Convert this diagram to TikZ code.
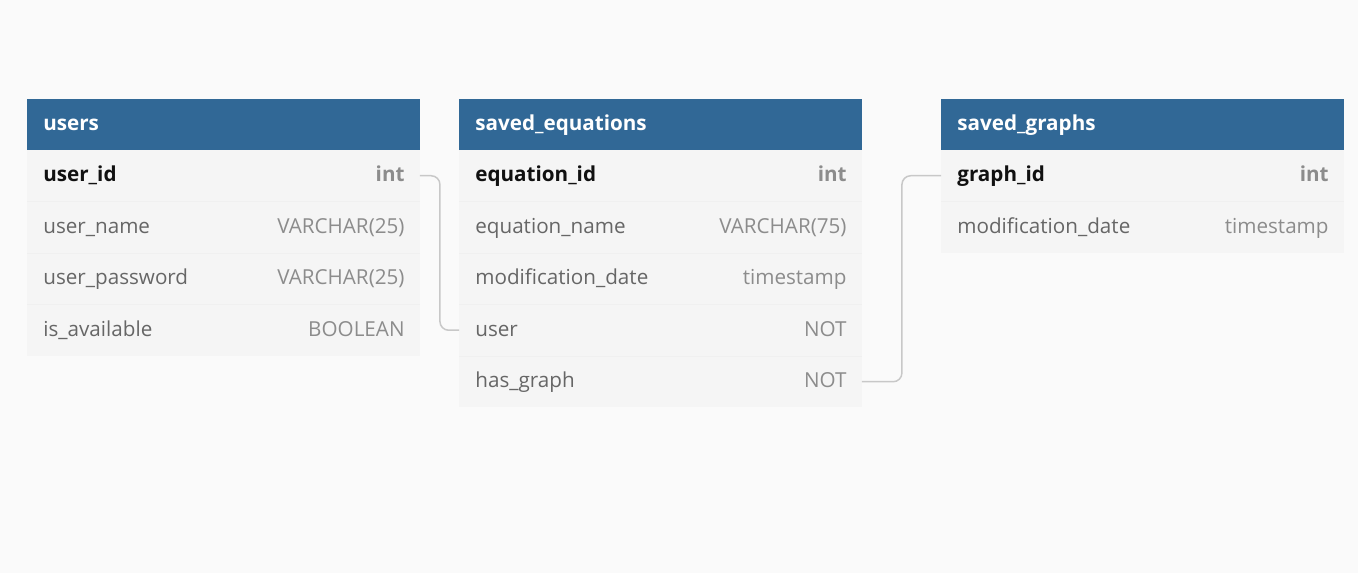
\documentclass[tikz,border=0pt]{standalone}
\usepackage{fontspec}
\setmainfont{Open Sans}
\usepackage{xcolor}
\usepackage{tikz}
\usetikzlibrary{positioning}

\definecolor{pagebg}{HTML}{FAFAFA}
\definecolor{hdblue}{HTML}{316896}
\definecolor{rowbg}{HTML}{F5F5F5}
\definecolor{sepgray}{HTML}{F0F0F0}
\definecolor{keyblack}{HTML}{111111}
\definecolor{fldgray}{HTML}{666666}
\definecolor{typgray}{HTML}{8C8C8C}
\definecolor{linkgray}{HTML}{C8C8C8}
\newcommand\tabfont{\fontsize{11.75}{14}\selectfont}

\begin{document}
\begin{tikzpicture}[x=0.02cm,y=-0.02cm,
  hd/.style={fill=hdblue,anchor=north west,minimum height=1.02cm,inner sep=0pt,outer sep=0pt},
  row/.style={fill=rowbg,anchor=north west,minimum height=1.03cm,inner sep=0pt,outer sep=0pt},
  txt/.style={inner sep=0pt,text height=1.55ex,text depth=0.45ex,yshift=-0.02cm},
  ttl/.style={txt,anchor=west,text=white,font=\tabfont\bfseries},
  key/.style={txt,anchor=west,text=keyblack,font=\tabfont\bfseries},
  fld/.style={txt,anchor=west,text=fldgray,font=\tabfont},
  typ/.style={txt,anchor=east,text=typgray,font=\tabfont},
  ktyp/.style={txt,anchor=east,text=typgray,font=\tabfont\bfseries},
  sep/.style={draw=sepgray,line width=0.5pt},
  link/.style={draw=linkgray,line width=0.85pt,rounded corners=5pt}
]
\fill[pagebg] (0,0) rectangle (1358,573);

% users
\node[hd,minimum width=7.86cm] (users) at (27,99) {};
\node[ttl] (users-t) at ([xshift=0.32cm]users.west) {users};
\node[row,minimum width=7.86cm] (users-1) at (27,150) {};
\node[key] (users-1n) at ([xshift=0.32cm]users-1.west) {user\_id};
\node[ktyp] (users-1t) at ([xshift=-0.3cm]users-1.east) {int};
\foreach \nm/\ty [count=\i from 2] in {user\_name/VARCHAR(25),user\_password/VARCHAR(25),is\_available/BOOLEAN}{
  \node[row,minimum width=7.86cm] (users-\i) at (27,{150+51.5*(\i-1)}) {};
  \draw[sep] (users-\i.north west) -- (users-\i.north east);
  \node[fld] (users-\i n) at ([xshift=0.32cm]users-\i.west) {\nm};
  \node[typ] (users-\i t) at ([xshift=-0.3cm]users-\i.east) {\ty};
}

% saved_equations
\node[hd,minimum width=8.06cm] (eqs) at (459,99) {};
\node[ttl] (eqs-t) at ([xshift=0.32cm]eqs.west) {saved\_equations};
\node[row,minimum width=8.06cm] (eqs-1) at (459,150) {};
\node[key] (eqs-1n) at ([xshift=0.32cm]eqs-1.west) {equation\_id};
\node[ktyp] (eqs-1t) at ([xshift=-0.3cm]eqs-1.east) {int};
\foreach \nm/\ty [count=\i from 2] in {equation\_name/VARCHAR(75),modification\_date/timestamp,user/NOT,has\_graph/NOT}{
  \node[row,minimum width=8.06cm] (eqs-\i) at (459,{150+51.5*(\i-1)}) {};
  \draw[sep] (eqs-\i.north west) -- (eqs-\i.north east);
  \node[fld] (eqs-\i n) at ([xshift=0.32cm]eqs-\i.west) {\nm};
  \node[typ] (eqs-\i t) at ([xshift=-0.3cm]eqs-\i.east) {\ty};
}

% saved_graphs
\node[hd,minimum width=8.06cm] (grs) at (941,99) {};
\node[ttl] (grs-t) at ([xshift=0.32cm]grs.west) {saved\_graphs};
\node[row,minimum width=8.06cm] (grs-1) at (941,150) {};
\node[key] (grs-1n) at ([xshift=0.32cm]grs-1.west) {graph\_id};
\node[ktyp] (grs-1t) at ([xshift=-0.3cm]grs-1.east) {int};
\node[row,minimum width=8.06cm] (grs-2) at (941,201.5) {};
\draw[sep] (grs-2.north west) -- (grs-2.north east);
\node[fld] (grs-2n) at ([xshift=0.32cm]grs-2.west) {modification\_date};
\node[typ] (grs-2t) at ([xshift=-0.3cm]grs-2.east) {timestamp};

% links
\draw[link] (users-1.east) -- ++(20,0) |- (eqs-4.west);
\draw[link] (eqs-5.east) -- ++(40,0) |- (grs-1.west);
\end{tikzpicture}
\end{document}
